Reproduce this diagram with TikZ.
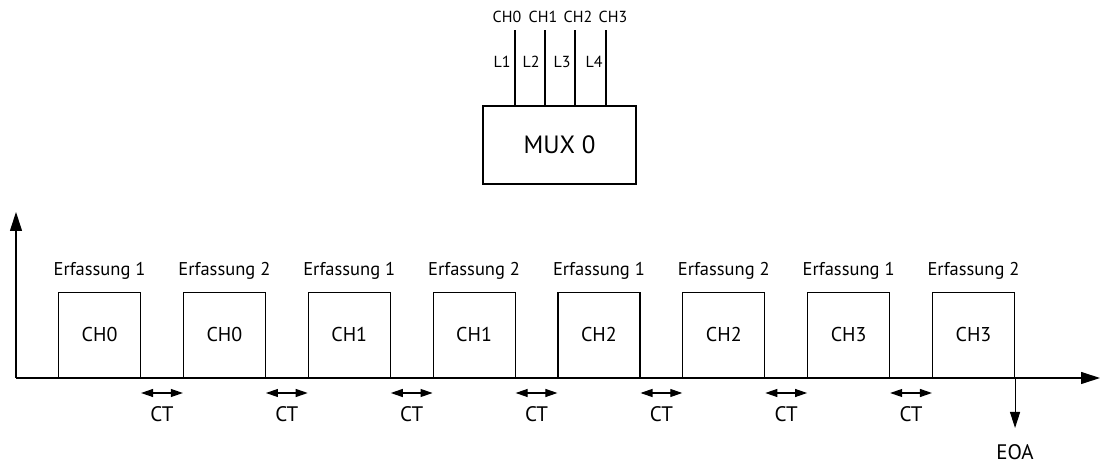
\documentclass[tikz,border=0pt]{standalone}
\usepackage{fontspec}
\setmainfont{PT Sans}
\usetikzlibrary{arrows.meta,calc,positioning}

\tikzset{
  arr/.style={-{Triangle[length=19pt,width=12pt]}},
  eoaarr/.style={-{Triangle[length=16pt,width=10pt]}},
  ctarr/.style={{Triangle[length=12pt,width=8pt]}-{Triangle[length=12pt,width=8pt]}},
  chbox/.style={draw, anchor=south west, minimum width=82pt, minimum height=85pt, inner sep=0pt},
  lbl/.style={font=\fontsize{18.5}{22}\selectfont, inner sep=0pt},
  boxtxt/.style={font=\fontsize{20}{24}\selectfont},
  cttxt/.style={font=\fontsize{21}{25}\selectfont, inner sep=0pt},
  tiny/.style={font=\fontsize{16}{19}\selectfont, inner sep=0pt}
}

\begin{document}
\begin{tikzpicture}[x=1pt,y=1pt,line width=1.1pt]
	\useasboundingbox (0,0) rectangle (1104,466);
	%\draw[help lines] (0,0) grid[step=50] (1104,466);

	%MULTIPLEXER
	\node[draw, minimum width=153pt, minimum height=78pt, font=\fontsize{25}{29}\selectfont] (mux) at (559.5,321) {MUX 0};
	\foreach \k/\xx/\cx/\lx in {0/515/507/502,1/545/543/531,2/575/578/562,3/606/613/594}{
		\coordinate (top\k) at (\xx,436);
		\draw (mux.north -| top\k) -- (top\k);
		\node[tiny] (in\k) at (\cx,449) {CH\k};
		\pgfmathtruncatemacro{\l}{\k+1}
		\node[tiny] (lin\k) at (\lx,404) {L\l};
	}

	%AXES
	\coordinate (O) at (16,88);
	\coordinate (ytop) at (16,254);
	\coordinate (xend) at (1100,88);
	\draw[arr] (O) -- (ytop);
	\draw[arr] (O) -- (xend);

	%ACQUISITIONS
	\foreach \i/\c/\n in {0/0/1,1/0/2,2/1/1,3/1/2,4/2/1,5/2/2,6/3/1,7/3/2}{
		\node[chbox, boxtxt] (box\i) at (58+124.85*\i,88) {CH\c};
		\node[lbl] (erf\i) at ($(box\i.north)+(0,21)$) {Erfassung \n};
	}

	%CONVERSION TIME
	\foreach \i in {0,...,6}{
		\pgfmathtruncatemacro{\j}{\i+1}
		\draw[ctarr] ([yshift=-15pt]box\i.south east) -- ([yshift=-15pt]box\j.south west)
			node[cttxt, midway, yshift=-21pt] (ct\i) {CT};
	}

	%END OF ACQUISITION
	\draw[eoaarr] (box7.south east) -- ++(0,-50) coordinate (eoatip);
	\node[cttxt] (eoa) at ($(eoatip)+(0,-24)$) {EOA};
\end{tikzpicture}
\end{document}
